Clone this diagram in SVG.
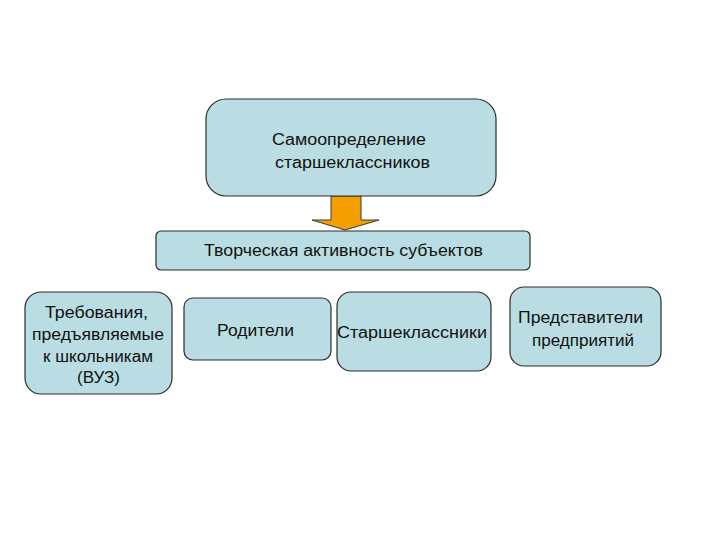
<svg xmlns="http://www.w3.org/2000/svg" width="720" height="540" viewBox="0 0 720 540">
<style>
.box{fill:#b9dde2;stroke:#2b2b2b;stroke-width:1.2}
text{font-family:"Liberation Sans",Arial,sans-serif;font-size:16px;fill:#111}
</style>
<rect width="720" height="540" fill="#fff"/>
<g id="connectors">
<polygon points="331,196 361,196 361,220 379,220 345,230 312,220 331,220" fill="#f59e00" stroke="#3a3a3a" stroke-width="1"/>
</g>
<g id="n-top">
<rect class="box" x="206" y="99" width="290" height="97" rx="20"/>
<text x="272" y="145" textLength="154" lengthAdjust="spacingAndGlyphs">Самоопределение</text>
<text x="275" y="168" textLength="155" lengthAdjust="spacingAndGlyphs">старшеклассников</text>
</g>
<g id="n-bar">
<rect class="box" x="156" y="231" width="374" height="39" rx="5"/>
<text x="204" y="256" textLength="279" lengthAdjust="spacingAndGlyphs">Творческая активность субъектов</text>
</g>
<g id="n-req">
<rect class="box" x="25" y="292" width="147" height="102" rx="16"/>
<text x="45" y="318" textLength="103" lengthAdjust="spacingAndGlyphs">Требования,</text>
<text x="32" y="340" textLength="132" lengthAdjust="spacingAndGlyphs">предъявляемые</text>
<text x="43" y="362" textLength="110" lengthAdjust="spacingAndGlyphs">к школьникам</text>
<text x="77" y="383" textLength="43" lengthAdjust="spacingAndGlyphs">(ВУЗ)</text>
</g>
<g id="n-parents">
<rect class="box" x="184" y="298" width="147" height="62" rx="9"/>
<text x="217" y="336" textLength="77" lengthAdjust="spacingAndGlyphs">Родители</text>
</g>
<g id="n-seniors">
<rect class="box" x="337" y="292" width="154" height="79" rx="14"/>
<text x="337" y="338" textLength="150" lengthAdjust="spacingAndGlyphs">Старшеклассники</text>
</g>
<g id="n-reps">
<rect class="box" x="510" y="287" width="151" height="79" rx="14"/>
<text x="518" y="323" textLength="125" lengthAdjust="spacingAndGlyphs">Представители</text>
<text x="532" y="346" textLength="102" lengthAdjust="spacingAndGlyphs">предприятий</text>
</g>
</svg>
